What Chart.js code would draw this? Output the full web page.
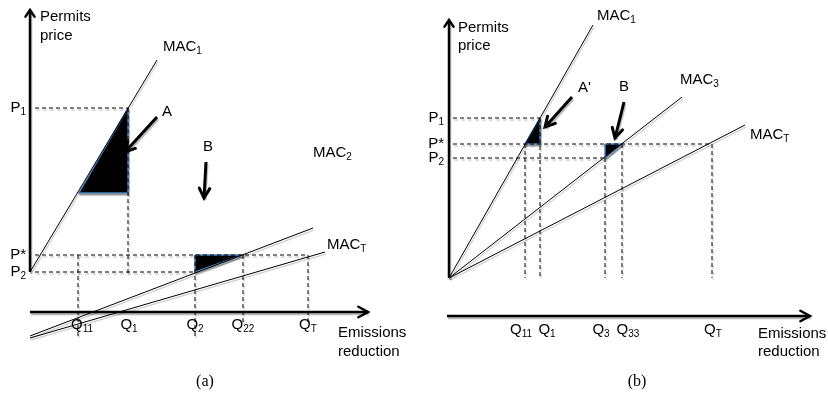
<!DOCTYPE html>
<html>
<head>
<meta charset="utf-8">
<script src="https://cdn.jsdelivr.net/npm/chart.js@4"></script>
<style>
  html, body { margin: 0; padding: 0; background: #fff; }
  #wrap { position: relative; width: 828px; height: 398px; }
  canvas { position: absolute; top: 0; }
  #panelA { left: 0; }
  #panelB { left: 414px; }
</style>
</head>
<body>
<div id="wrap">
  <canvas id="panelA" width="414" height="398"></canvas>
  <canvas id="panelB" width="414" height="398"></canvas>
</div>
<script>
// ---- panel (a): quantities and prices (schematic units) ----
const aPriceNames = ['P_1', 'P*', 'P_2'];
const aPrices = [20.4, 5.7, 4.0];
const aPriceGuideTo = [9.8, 27.8, 16.5];          // quantity where each price line stops
const aQuantityNames = ['Q_11', 'Q_1', 'Q_2', 'Q_22', 'Q_T'];
const aQuantities = [4.8, 9.8, 16.5, 21.3, 27.8];
const aQuantityTop = [5.7, 20.4, 5.7, 5.7, 5.7];
const aQuantityBottom = [-2.5, 3.9, -2.5, -1.0, -1.3];
const aQuantityLabelX = [5.2, 9.9, 16.5, 21.3, 27.8];
const aCurveNames = ['MAC_1', 'MAC_2', 'MAC_T'];
const aCurves = [
    [[0, 4.0], [12.7, 25.2]],
    [[0, -2.4], [28.3, 8.4]],
    [[0, -2.6], [29.5, 6.0]]
];
const aAreas = [
    [[9.8, 20.4], [9.8, 11.9], [4.9, 11.9], [9.8, 20.4]],
    [[16.5, 5.7], [16.5, 4.0], [21.3, 5.7], [16.5, 5.7]]
];
const aPointerNames = ['A', 'B'];
const aPointers = [
    [[12.7, 19.5], [9.5, 16.0]],
    [[17.6, 15.0], [17.4, 11.4]]
];

// ---- panel (b) ----
const bPriceNames = ['P_1', 'P*', 'P_2'];
const bPrices = [16.0, 13.4, 12.0];
const bPriceGuideTo = [9.1, 26.3, 15.6];
const bQuantityNames = ['Q_11', 'Q_1', 'Q_3', 'Q_33', 'Q_T'];
const bQuantities = [7.6, 9.1, 15.6, 17.3, 26.3];
const bQuantityTop = [13.4, 16.0, 12.0, 13.4, 13.4];
const bQuantityBottom = [0, 0, 0, 0, 0];
const bQuantityLabelX = [7.2, 9.8, 15.2, 17.9, 26.4];
const bCurveNames = ['MAC_1', 'MAC_3', 'MAC_T'];
const bCurves = [
    [[0, 0], [14.4, 25.3]],
    [[0, 0], [23.3, 18.1]],
    [[0, 0], [29.6, 15.3]]
];
const bAreas = [
    [[9.1, 16.0], [9.1, 13.4], [7.6, 13.4], [9.1, 16.0]],
    [[15.6, 13.4], [15.6, 12.0], [17.3, 13.4], [15.6, 13.4]]
];
const bPointerNames = ["A'", 'B'];
const bPointers = [
    [[12.3, 18.1], [9.6, 15.1]],
    [[17.5, 17.6], [16.6, 14.0]]
];

const SANS = '"Liberation Sans", Arial, sans-serif';
const SERIF = '"Liberation Serif", "Times New Roman", serif';

const pts = arr => arr.map(([x, y]) => ({ x, y }));

// shadows under the strokes, open arrow heads, and all the text
const diagramPlugin = {
    id: 'diagram',
    beforeDatasetsDraw(chart) {
        const ctx = chart.ctx;
        ctx.save();
        ctx.shadowColor = 'rgba(0,0,0,0.28)';
        ctx.shadowOffsetX = 1;
        ctx.shadowOffsetY = 2;
        ctx.shadowBlur = 1;
    },
    afterDatasetsDraw(chart) {
        const ctx = chart.ctx;
        ctx.restore();
        chart.data.datasets.forEach((ds, i) => {
            if (!ds.head) return;
            const pts = chart.getDatasetMeta(i).data;
            const a = pts[pts.length - 2], b = pts[pts.length - 1];
            const ang = Math.atan2(b.y - a.y, b.x - a.x);
            const len = ds.head.len, spread = ds.head.spread;
            ctx.save();
            ctx.strokeStyle = '#000';
            ctx.lineWidth = ds.borderWidth;
            ctx.lineCap = 'round';
            ctx.lineJoin = 'miter';
            ctx.beginPath();
            ctx.moveTo(b.x - len * Math.cos(ang - spread), b.y - len * Math.sin(ang - spread));
            ctx.lineTo(b.x, b.y);
            ctx.lineTo(b.x - len * Math.cos(ang + spread), b.y - len * Math.sin(ang + spread));
            ctx.stroke();
            ctx.restore();
        });
    },
    afterDraw(chart, args, opts) {
        const ctx = chart.ctx, sx = chart.scales.x, sy = chart.scales.y;
        ctx.save();
        ctx.fillStyle = '#000';
        ctx.textBaseline = 'middle';
        ctx.textAlign = 'left';
        opts.labels.forEach(l => {
            const [main, sub] = l.text.split('_');
            const big = l.serif ? '16px ' + SERIF : '15px ' + SANS;
            const small = '10px ' + SANS;
            ctx.font = big;
            const w1 = ctx.measureText(main).width;
            ctx.font = small;
            const w2 = sub ? ctx.measureText(sub).width : 0;
            let x = sx.getPixelForValue(l.x);
            if (l.align === 'center') x -= (w1 + w2) / 2;
            else if (l.align === 'right') x -= (w1 + w2);
            const y = sy.getPixelForValue(l.y);
            ctx.font = big;
            ctx.fillText(main, x, y);
            if (sub) {
                ctx.font = small;
                ctx.fillText(sub, x + w1, y + 4);
            }
        });
        ctx.restore();
    }
};

function buildPanel(canvasId, p) {
    const datasets = [];
    const add = (data, extra) => datasets.push(Object.assign({
        data: pts(data),
        showLine: true,
        pointRadius: 0,
        borderColor: '#000',
        borderWidth: 1,
        fill: false,
        tension: 0
    }, extra));

    // arrows pointing at the shaded areas
    p.pointers.forEach(ptr => add(ptr, { borderWidth: 3, head: { len: 11, spread: 0.5 } }));

    // axes
    add(p.yAxis, { borderWidth: 2.5, head: { len: 8, spread: 0.6 } });
    add(p.xAxis, { borderWidth: 2.5, head: { len: 11, spread: 0.5 } });

    // MAC curves
    p.curves.forEach(c => add(c, { borderWidth: 1 }));

    // dashed guides
    p.prices.forEach((price, i) => add([[p.guideStart, price], [p.priceGuideTo[i], price]], { borderDash: [4, 3] }));
    p.quantities.forEach((q, i) => add([[q, p.quantityTop[i]], [q, p.quantityBottom[i]]], { borderDash: [4, 3] }));

    // shaded areas
    p.areas.forEach(a => add(a, { fill: 'shape', backgroundColor: '#000', borderColor: '#4f81bd', borderWidth: 1.5 }));

    const labels = [];
    labels.push({ text: 'Permits', x: p.titleAt[0], y: p.titleAt[1], align: 'left' });
    labels.push({ text: 'price', x: p.titleAt[0], y: p.titleAt[1] - p.lineGap, align: 'left' });
    labels.push({ text: 'Emissions', x: p.xTitleAt[0], y: p.xTitleAt[1], align: 'left' });
    labels.push({ text: 'reduction', x: p.xTitleAt[0], y: p.xTitleAt[1] - p.lineGap, align: 'left' });
    p.priceNames.forEach((n, i) => labels.push({ text: n, x: p.priceLabelX, y: p.prices[i], align: 'right' }));
    p.quantityNames.forEach((n, i) => labels.push({ text: n, x: p.quantityLabelX[i], y: p.quantityLabelY, align: 'center' }));
    p.curveNames.forEach((n, i) => labels.push({ text: n, x: p.curveLabelAt[i][0], y: p.curveLabelAt[i][1], align: 'left' }));
    p.pointerNames.forEach((n, i) => labels.push({ text: n, x: p.pointerLabelAt[i][0], y: p.pointerLabelAt[i][1], align: p.pointerAlign[i] }));
    labels.push({ text: p.caption, x: p.captionAt[0], y: p.captionAt[1], align: 'center', serif: true });

    new Chart(document.getElementById(canvasId), {
        type: 'scatter',
        data: { datasets },
        options: {
            responsive: false,
            animation: false,
            events: [],
            layout: { padding: 0 },
            scales: {
                x: { type: 'linear', display: false, min: p.xRange[0], max: p.xRange[1] },
                y: { type: 'linear', display: false, min: p.yRange[0], max: p.yRange[1] }
            },
            plugins: {
                legend: { display: false },
                tooltip: { enabled: false },
                diagram: { labels }
            }
        },
        plugins: [diagramPlugin]
    });
}

buildPanel('panelA', {
    xRange: [-3, 38.4], yRange: [-8.6, 31.2],
    yAxis: [[0, 4.0], [0, 30.2]], xAxis: [[0, 0], [33.8, 0]],
    curves: aCurves, curveNames: aCurveNames,
    curveLabelAt: [[13.3, 26.5], [28.3, 15.9], [29.7, 6.7]],
    prices: aPrices, priceNames: aPriceNames, priceGuideTo: aPriceGuideTo, guideStart: 0.5, priceLabelX: -0.4,
    quantities: aQuantities, quantityNames: aQuantityNames, quantityTop: aQuantityTop, quantityBottom: aQuantityBottom,
    quantityLabelX: aQuantityLabelX, quantityLabelY: -1.3,
    areas: aAreas, pointers: aPointers, pointerNames: aPointerNames,
    pointerLabelAt: [[13.2, 20.0], [17.8, 16.5]], pointerAlign: ['left', 'center'],
    titleAt: [1.0, 29.5], xTitleAt: [30.8, -2.1], lineGap: 1.9,
    caption: '(a)', captionAt: [17.5, -7.0]
});

buildPanel('panelB', {
    xRange: [-3.5, 37.9], yRange: [-12, 27.8],
    yAxis: [[0, 0], [0, 25.8]], xAxis: [[-0.2, -3.8], [36.1, -3.8]],
    curves: bCurves, curveNames: bCurveNames,
    curveLabelAt: [[14.8, 26.2], [23.1, 19.8], [30.1, 14.3]],
    prices: bPrices, priceNames: bPriceNames, priceGuideTo: bPriceGuideTo, guideStart: 0.4, priceLabelX: -0.5,
    quantities: bQuantities, quantityNames: bQuantityNames, quantityTop: bQuantityTop, quantityBottom: bQuantityBottom,
    quantityLabelX: bQuantityLabelX, quantityLabelY: -5.2,
    areas: bAreas, pointers: bPointers, pointerNames: bPointerNames,
    pointerLabelAt: [[12.9, 19.0], [17.5, 19.1]], pointerAlign: ['left', 'center'],
    titleAt: [0.9, 25.0], xTitleAt: [30.9, -5.6], lineGap: 1.8,
    caption: '(b)', captionAt: [18.8, -10.4]
});
</script>
</body>
</html>
